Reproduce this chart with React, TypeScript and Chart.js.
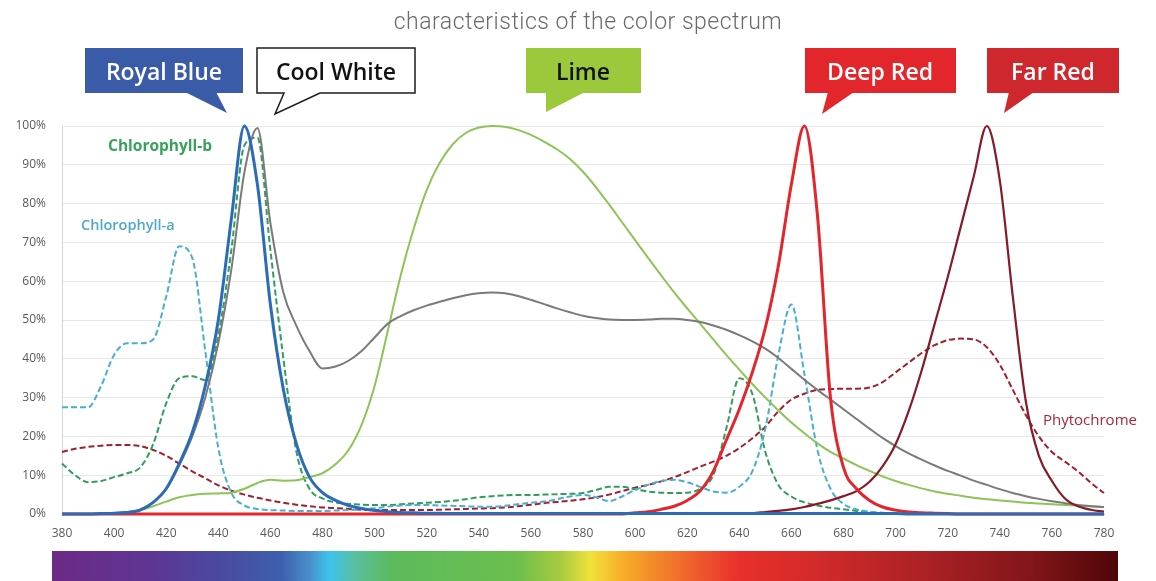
import { useEffect, useRef } from "react";
import { Chart, registerables } from "chart.js";

Chart.register(...registerables);

// Wavelength grid (nm)
const wavelengths = [
  380, 385, 390, 395, 400, 405, 410, 415, 420, 425,
  430, 435, 440, 445, 450, 455, 460, 465, 470, 475,
  480, 485, 490, 495, 500, 505, 510, 515, 520, 525,
  530, 535, 540, 545, 550, 555, 560, 565, 570, 575,
  580, 585, 590, 595, 600, 605, 610, 615, 620, 625,
  630, 635, 640, 645, 650, 655, 660, 665, 670, 675,
  680, 685, 690, 695, 700, 705, 710, 715, 720, 725,
  730, 735, 740, 745, 750, 755, 760, 765, 770, 775,
  780,
];

const xTicks = [380, 400, 420, 440, 460, 480, 500, 520, 540, 560, 580, 600, 620, 640, 660, 680, 700, 720, 740, 760, 780];
const yTicks = [0, 10, 20, 30, 40, 50, 60, 70, 80, 90, 100];

const royalBlue = [
  0, 0, 0, 0.1, 0.2, 0.4, 1, 3, 6.5, 13,
  21, 33, 50, 76, 100, 85, 54, 32, 18, 9.5,
  5.5, 3.5, 2.2, 1.4, 0.9, 0.6, 0.4, 0.3, 0.2, 0.2,
  0.1, 0.1, 0.1, 0.1, 0.1, 0.1, 0.1, 0.1, 0.1, 0.1,
  0.1, 0.1, 0.1, 0.1, 0.1, 0.1, 0.1, 0.1, 0.1, 0.1,
  0.1, 0.1, 0.1, 0.1, 0.1, 0.1, 0.1, 0.1, 0.1, 0.1,
  0.1, 0.1, 0.1, 0.1, 0.1, 0, 0, 0, 0, 0,
  0, 0, 0, 0, 0, 0, 0, 0, 0, 0,
  0,
];

const coolWhite = [
  0, 0, 0, 0.1, 0.2, 0.5, 1.2, 3, 6.5, 12.5,
  20, 30, 44, 63, 88, 99.5, 75, 57, 48.5, 42,
  37.5, 38, 39.5, 42, 45.5, 49, 51, 52.5, 53.7, 54.7,
  55.6, 56.4, 56.9, 57.1, 56.9, 56.2, 55.2, 54.1, 53, 52,
  51.1, 50.5, 50.1, 50, 50, 50.1, 50.3, 50.3, 50, 49.5,
  48.6, 47.5, 46.1, 44.5, 42.6, 40.2, 37.4, 34.6, 32, 29.5,
  27, 24.5, 22, 19.6, 17.5, 15.6, 14, 12.5, 11.1, 9.9,
  8.6, 7.5, 6.4, 5.4, 4.6, 3.9, 3.3, 2.8, 2.3, 2,
  1.8,
];

const lime = [
  0, 0, 0, 0, 0, 0.3, 1, 2, 3.2, 4.3,
  4.9, 5.2, 5.3, 5.5, 6.5, 8, 8.8, 8.6, 8.7, 9.5,
  10.5, 12.8, 16.5, 23, 33, 47, 61.5, 73.5, 83.5, 90.5,
  95.3, 98.2, 99.6, 100, 99.8, 99, 97.7, 96, 94, 91.5,
  88.2, 84.2, 79.8, 75.2, 70.6, 66, 61.5, 57.1, 53, 49,
  45, 41, 37.2, 33.5, 30, 26.7, 23.6, 20.8, 18.2, 16,
  14.3, 12.6, 11.1, 9.7, 8.5, 7.5, 6.6, 5.8, 5.2, 4.7,
  4.2, 3.8, 3.5, 3.2, 2.9, 2.7, 2.5, 2.3, 2.1, 2,
  1.8,
];

const deepRed = [
  0, 0, 0, 0, 0, 0, 0, 0, 0, 0,
  0, 0, 0, 0, 0, 0, 0, 0, 0, 0,
  0, 0, 0, 0, 0, 0, 0, 0, 0, 0,
  0, 0, 0, 0, 0, 0, 0, 0, 0, 0,
  0, 0, 0, 0, 0.3, 0.6, 1.2, 2, 3.5, 6,
  11, 19, 27, 36.5, 48, 64, 85, 100, 77, 30,
  12, 6.5, 3.5, 1.8, 1, 0.5, 0.3, 0.2, 0.1, 0,
  0, 0, 0, 0, 0, 0, 0, 0, 0, 0,
  0,
];

const farRed = [
  0, 0, 0, 0, 0, 0, 0, 0, 0, 0,
  0, 0, 0, 0, 0, 0, 0, 0, 0, 0,
  0, 0, 0, 0, 0, 0, 0, 0, 0, 0,
  0, 0, 0, 0, 0, 0, 0, 0, 0, 0,
  0, 0, 0, 0, 0, 0, 0, 0, 0, 0,
  0, 0, 0, 0.2, 0.5, 0.8, 1.2, 1.8, 2.6, 3.5,
  4.6, 5.9, 8.3, 12.3, 18, 26.5, 37, 49, 61, 74,
  87, 100, 86, 56, 29, 15, 8.5, 4, 2, 1.1,
  0.6,
];

const chlorophyllA = [
  27.5, 27.5, 27.5, 33, 41, 44, 44, 45, 56, 69,
  66, 42, 17, 5.5, 2.2, 1.3, 1, 0.9, 0.8, 0.8,
  0.8, 0.9, 1, 1.2, 1.5, 1.9, 2.2, 2.3, 2.3, 2.2,
  2.1, 2, 1.9, 1.9, 2.1, 2.5, 2.9, 3.2, 3.8, 4.5,
  4.9, 4.3, 3.3, 4.5, 6.2, 7.5, 8.5, 8.8, 8.2, 7,
  5.8, 5.5, 7, 11, 22, 41, 54, 36, 16.5, 6.5,
  2.6, 1.2, 0.6, 0.3, 0, 0, 0, 0, 0, 0,
  0, 0, 0, 0, 0, 0, 0, 0, 0, 0,
  0,
];

const chlorophyllB = [
  13, 10, 8.2, 8.5, 9.5, 10.5, 12, 18, 28.5, 35,
  35.5, 34.5, 46, 68, 95, 97, 68, 40, 16, 6.5,
  4, 3, 2.6, 2.4, 2.3, 2.3, 2.5, 2.7, 2.9, 3.1,
  3.4, 3.8, 4.3, 4.6, 4.8, 4.9, 4.9, 5, 5.1, 5.2,
  5.4, 6.2, 7, 7, 6.4, 5.8, 5.5, 5.4, 5.5, 6.5,
  10, 22, 35, 31, 16, 7.5, 4.5, 3, 2.2, 1.6,
  1.2, 0.8, 0.4, 0.2, 0, 0, 0, 0, 0, 0,
  0, 0, 0, 0, 0, 0, 0, 0, 0, 0,
  0,
];

const phytochrome = [
  16, 16.8, 17.3, 17.6, 17.8, 17.8, 17.5, 16.5, 15, 13,
  11, 9.2, 7.4, 6, 5, 4.2, 3.5, 2.9, 2.4, 2,
  1.7, 1.5, 1.3, 1.1, 1, 1, 1, 1, 1, 1.1,
  1.2, 1.3, 1.4, 1.5, 1.7, 2, 2.4, 2.8, 3.1, 3.4,
  3.8, 4.3, 5, 5.9, 6.8, 7.5, 8.4, 9.5, 10.8, 12.2,
  13.5, 15, 17, 19.5, 22.5, 26.5, 29.5, 31, 32, 32.2,
  32.3, 32.3, 32.6, 34, 36.5, 39, 41.5, 43.5, 44.8, 45.2,
  45, 43, 38.5, 32, 25.5, 20, 16, 13.5, 11, 8,
  5.4,
];

const TITLE = "characteristics of the color spectrum";

const FONT = '"Open Sans", "DejaVu Sans", sans-serif';

export default function App() {
  const canvasRef = useRef<HTMLCanvasElement>(null);

  useEffect(() => {
    const pts = (vals: number[]) => wavelengths.map((x, i) => ({ x, y: vals[i] }));
    const solid = (label: string, vals: number[], color: string, width: number) => ({
      label,
      data: pts(vals),
      borderColor: color,
      backgroundColor: color,
      borderWidth: width,
      pointRadius: 0,
      fill: false,
      cubicInterpolationMode: "monotone" as const,
      clip: false as const,
    });
    const dashed = (label: string, vals: number[], color: string) => ({
      ...solid(label, vals, color, 2),
      borderDash: [6, 3],
    });

    const chart = new Chart(canvasRef.current!, {
      type: "line",
      data: {
        datasets: [
          solid("Royal Blue", royalBlue, "#2b6cb8", 3),
          solid("Deep Red", deepRed, "#e3262d", 3),
          solid("Far Red", farRed, "#861b27", 2.2),
          solid("Cool White", coolWhite, "#7a7a7a", 2),
          solid("Lime", lime, "#8dc456", 2),
          dashed("Chlorophyll-a", chlorophyllA, "#4aaed2"),
          dashed("Chlorophyll-b", chlorophyllB, "#2f9e5c"),
          dashed("Phytochrome", phytochrome, "#a0202e"),
        ] as any,
      },
      options: {
        animation: false,
        responsive: true,
        maintainAspectRatio: false,
        layout: { padding: { top: 126, right: 52, left: 0, bottom: 0 } },
        plugins: {
          legend: { display: false },
          tooltip: { enabled: false },
          title: { display: false },
        },
        scales: {
          x: {
            type: "linear",
            min: 380,
            max: 780,
            afterBuildTicks: (axis: any) => {
              axis.ticks = xTicks.map((v) => ({ value: v }));
            },
            ticks: {
              autoSkip: false,
              maxRotation: 0,
              padding: 12,
              color: "#595959",
              font: { family: FONT, size: 12 },
            },
            grid: { display: false, drawTicks: false },
            border: { display: true, color: "#bfbfbf", width: 1 },
            afterFit: (s: any) => {
              s.height = 67;
            },
          },
          y: {
            min: 0,
            max: 100,
            afterBuildTicks: (axis: any) => {
              axis.ticks = yTicks.map((v) => ({ value: v }));
            },
            ticks: {
              padding: 16,
              color: "#595959",
              font: { family: FONT, size: 12 },
              callback: (v: any) => `${v}%`,
            },
            grid: { color: "#e8e8e8", drawTicks: false, lineWidth: 1 },
            border: { display: true, color: "#d4d4d4", width: 1 },
            afterFit: (s: any) => {
              s.width = 62;
            },
          },
        },
      } as any,
    });
    return () => chart.destroy();
  }, []);

  const calloutFont = { fontFamily: FONT, fontWeight: 600, fontSize: 23 };

  return (
    <div
      style={{
        position: "absolute",
        left: 0,
        top: 0,
        width: 1156,
        height: 581,
        background: "#ffffff",
        overflow: "hidden",
      }}
    >
      <div style={{ position: "absolute", left: 0, top: 0, width: 1156, height: 581 }}>
        <canvas ref={canvasRef} />
      </div>

      <div
        style={{
          position: "absolute",
          left: 10,
          top: 8,
          width: 1156,
          textAlign: "center",
          fontFamily: "Roboto, sans-serif",
          fontWeight: 300,
          fontSize: 23,
          lineHeight: "28px",
          letterSpacing: 0.5,
          color: "#6a6a6a",
        }}
      >
        {TITLE}
      </div>

      <svg
        width={1156}
        height={130}
        style={{ position: "absolute", left: 0, top: 0 }}
      >
        {/* Royal Blue */}
        <rect x={85} y={48} width={158} height={45} fill="#3a5ba8" />
        <polygon points="185,92 216,92 227,113" fill="#3a5ba8" />
        <text x={164} y={71} textAnchor="middle" dominantBaseline="central" fill="#ffffff" style={calloutFont}>
          Royal Blue
        </text>

        {/* Cool White */}
        <path
          d="M257,48 H415 V93 H320 L275,114 L284,93 H257 Z"
          fill="#ffffff"
          stroke="#1c1c1c"
          strokeWidth={1.5}
        />
        <text x={336} y={71} textAnchor="middle" dominantBaseline="central" fill="#111111" style={calloutFont}>
          Cool White
        </text>

        {/* Lime */}
        <rect x={526} y={48} width={115} height={45} fill="#9cc93b" />
        <polygon points="546,92 585,92 546,112" fill="#9cc93b" />
        <text x={583} y={71} textAnchor="middle" dominantBaseline="central" fill="#111111" style={calloutFont}>
          Lime
        </text>

        {/* Deep Red */}
        <rect x={805} y={48} width={151} height={45} fill="#e2262c" />
        <polygon points="828,92 854,92 822,114" fill="#e2262c" />
        <text x={880} y={71} textAnchor="middle" dominantBaseline="central" fill="#ffffff" style={calloutFont}>
          Deep Red
        </text>

        {/* Far Red */}
        <rect x={987} y={48} width={132} height={45} fill="#cf272e" />
        <polygon points="1009,92 1034,92 1004,113" fill="#cf272e" />
        <text x={1053} y={71} textAnchor="middle" dominantBaseline="central" fill="#ffffff" style={calloutFont}>
          Far Red
        </text>
      </svg>

      <div
        style={{
          position: "absolute",
          left: 108,
          top: 145,
          transform: "translateY(-50%)",
          fontFamily: FONT,
          fontWeight: 700,
          fontSize: 15.5,
          color: "#36a35a",
          whiteSpace: "nowrap",
        }}
      >
        Chlorophyll-b
      </div>
      <div
        style={{
          position: "absolute",
          left: 81,
          top: 224,
          transform: "translateY(-50%)",
          fontFamily: FONT,
          fontWeight: 600,
          fontSize: 14.5,
          color: "#4ea9c9",
          whiteSpace: "nowrap",
        }}
      >
        Chlorophyll-a
      </div>
      <div
        style={{
          position: "absolute",
          left: 1043,
          top: 419,
          transform: "translateY(-50%)",
          fontFamily: FONT,
          fontWeight: 400,
          fontSize: 15,
          color: "#a8283a",
          whiteSpace: "nowrap",
        }}
      >
        Phytochrome
      </div>

      <div
        style={{
          position: "absolute",
          left: 52,
          top: 551,
          width: 1066,
          height: 30,
          background:
            "linear-gradient(to right, #6b2a85 0%, #5e3592 9%, #4a4aa0 15.9%, #3d5fad 21.5%, #4a90cc 24.2%, #3cc3ee 26%, #59bfa0 28.4%, #5cbb5c 31.8%, #6cbe4e 43.6%, #a9cb40 47.8%, #f0e33a 50.5%, #f8b12a 53.3%, #f39029 56%, #ef5e2d 60.2%, #e8302b 64.4%, #d42a2a 71.3%, #ac2125 81.7%, #811519 92%, #4e0607 100%)",
        }}
      />
    </div>
  );
}
